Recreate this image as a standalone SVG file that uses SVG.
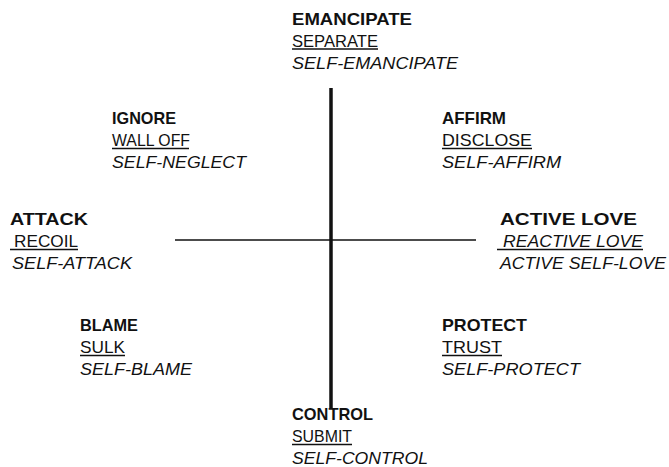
<svg xmlns="http://www.w3.org/2000/svg" width="669" height="467" viewBox="0 0 669 467">
  <style>
    text { font-family: "Liberation Sans", Arial, sans-serif; font-size: 16.5px; fill: #111; }
    .h { font-weight: bold; font-size: 17px; }
    .i { font-style: italic; }
    .ul { stroke: #111; stroke-width: 1.5; }
    .axis { stroke: #111; fill: none; }
  </style>
  <rect width="669" height="467" fill="#fff"/>

  <g id="axes">
    <line class="axis" x1="331" y1="88" x2="331" y2="408" stroke-width="3.5"/>
    <line class="axis" x1="175" y1="240" x2="476" y2="240" stroke-width="1.6"/>
  </g>

  <g id="emancipate">
    <text class="h" x="292" y="24.5" textLength="120" lengthAdjust="spacingAndGlyphs">EMANCIPATE</text>
    <text x="292" y="46.5" textLength="86" lengthAdjust="spacingAndGlyphs">SEPARATE</text>
    <line class="ul" x1="292" y1="49" x2="378" y2="49"/>
    <text class="i" x="292" y="68.5" textLength="166" lengthAdjust="spacingAndGlyphs">SELF-EMANCIPATE</text>
  </g>

  <g id="ignore">
    <text class="h" x="112" y="124" textLength="64" lengthAdjust="spacingAndGlyphs">IGNORE</text>
    <text x="112" y="146" textLength="78" lengthAdjust="spacingAndGlyphs">WALL OFF</text>
    <line class="ul" x1="112" y1="148.5" x2="189" y2="148.5"/>
    <text class="i" x="112" y="168" textLength="134" lengthAdjust="spacingAndGlyphs">SELF-NEGLECT</text>
  </g>

  <g id="affirm">
    <text class="h" x="442" y="124" textLength="64" lengthAdjust="spacingAndGlyphs">AFFIRM</text>
    <text x="442" y="146" textLength="90" lengthAdjust="spacingAndGlyphs">DISCLOSE</text>
    <line class="ul" x1="442" y1="148.5" x2="532" y2="148.5"/>
    <text class="i" x="442" y="168" textLength="119" lengthAdjust="spacingAndGlyphs">SELF-AFFIRM</text>
  </g>

  <g id="attack">
    <text class="h" x="10" y="225" textLength="78" lengthAdjust="spacingAndGlyphs">ATTACK</text>
    <text x="14" y="247" textLength="64" lengthAdjust="spacingAndGlyphs">RECOIL</text>
    <line class="ul" x1="10" y1="249.5" x2="78" y2="249.5"/>
    <text class="i" x="12" y="269" textLength="120" lengthAdjust="spacingAndGlyphs">SELF-ATTACK</text>
  </g>

  <g id="active-love">
    <text class="h" x="500" y="225" textLength="137" lengthAdjust="spacingAndGlyphs">ACTIVE LOVE</text>
    <text class="i" x="503" y="247" textLength="140" lengthAdjust="spacingAndGlyphs">REACTIVE LOVE</text>
    <line class="ul" x1="497" y1="249.5" x2="643" y2="249.5"/>
    <text class="i" x="500" y="269" textLength="166" lengthAdjust="spacingAndGlyphs">ACTIVE SELF-LOVE</text>
  </g>

  <g id="blame">
    <text class="h" x="80" y="331" textLength="58" lengthAdjust="spacingAndGlyphs">BLAME</text>
    <text x="80" y="353" textLength="45" lengthAdjust="spacingAndGlyphs">SULK</text>
    <line class="ul" x1="80" y1="355.5" x2="125" y2="355.5"/>
    <text class="i" x="80" y="375" textLength="112" lengthAdjust="spacingAndGlyphs">SELF-BLAME</text>
  </g>

  <g id="protect">
    <text class="h" x="442" y="331" textLength="85" lengthAdjust="spacingAndGlyphs">PROTECT</text>
    <text x="442" y="353" textLength="60" lengthAdjust="spacingAndGlyphs">TRUST</text>
    <line class="ul" x1="442" y1="355.5" x2="502" y2="355.5"/>
    <text class="i" x="442" y="375" textLength="138" lengthAdjust="spacingAndGlyphs">SELF-PROTECT</text>
  </g>

  <g id="control">
    <text class="h" x="292" y="420" textLength="81" lengthAdjust="spacingAndGlyphs">CONTROL</text>
    <text x="292" y="442" textLength="60" lengthAdjust="spacingAndGlyphs">SUBMIT</text>
    <line class="ul" x1="292" y1="444.5" x2="352" y2="444.5"/>
    <text class="i" x="292" y="464" textLength="136" lengthAdjust="spacingAndGlyphs">SELF-CONTROL</text>
  </g>
</svg>
